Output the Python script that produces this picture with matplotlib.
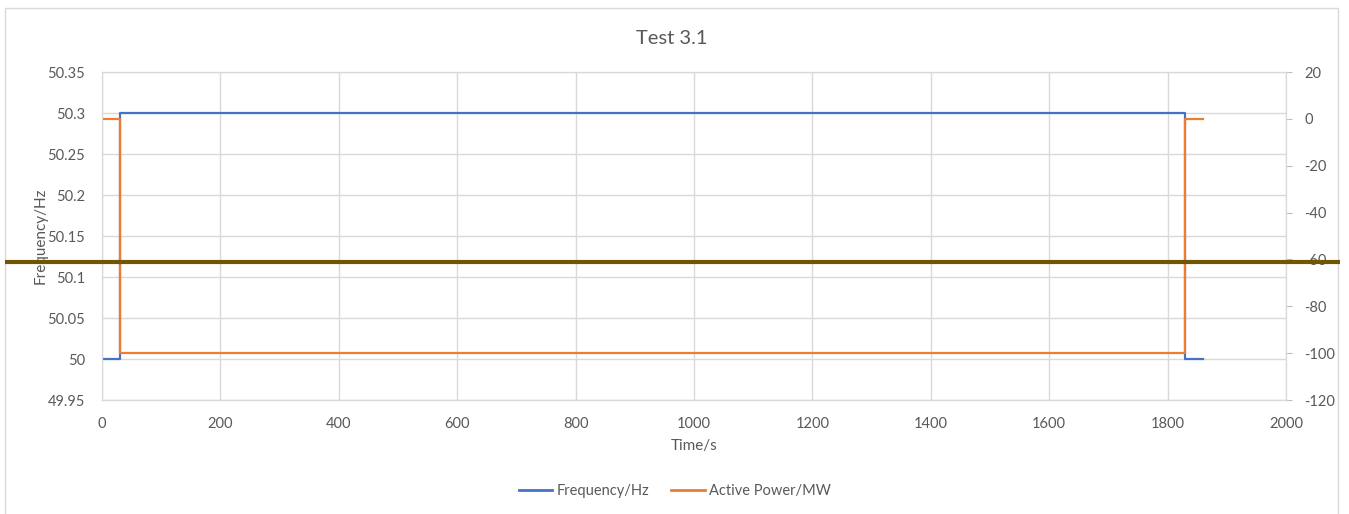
import matplotlib.pyplot as plt
from matplotlib.patches import Rectangle
from matplotlib.lines import Line2D

# data
time_s = [0, 30, 1830, 1860]
freq_hz = [50.0, 50.3, 50.0, 50.0]
power_mw = [0, -100, 0, 0]

x_ticks = [0, 200, 400, 600, 800, 1000, 1200, 1400, 1600, 1800, 2000]
left_ticks = [49.95, 50, 50.05, 50.1, 50.15, 50.2, 50.25, 50.3, 50.35]
left_labels = ["49.95", "50", "50.05", "50.1", "50.15", "50.2", "50.25", "50.3", "50.35"]
right_ticks = [-120, -100, -80, -60, -40, -20, 0, 20]

blue = "#4472C4"
orange = "#ED7D31"
grey_txt = "#595959"
grid_c = "#D9D9D9"

plt.rcParams['font.family'] = ['Lato', 'DejaVu Sans']
plt.rcParams['axes.unicode_minus'] = False

fig = plt.figure(figsize=(13.49, 5.14), dpi=100)
W, H = 1349, 514
ax = fig.add_axes([102 / W, 1 - 400 / H, (1286 - 102) / W, (400 - 72) / H])
ax2 = ax.twinx()

ax.plot(time_s, freq_hz, drawstyle='steps-post', color=blue, lw=1.6, label="Frequency/Hz")
ax2.plot(time_s, power_mw, drawstyle='steps-post', color=orange, lw=1.6, label="Active Power/MW")

ax.set_xlim(0, 2000)
ax.set_ylim(49.95, 50.35)
ax2.set_ylim(-120, 20)
ax.set_xticks(x_ticks)
ax.set_yticks(left_ticks)
ax.set_yticklabels(left_labels)
ax2.set_yticks(right_ticks)

ax.grid(True, color=grid_c, lw=1)
ax.set_axisbelow(True)
for a in (ax, ax2):
    for s in a.spines.values():
        s.set_color(grid_c)
ax.spines['bottom'].set_color("#BFBFBF")

ax.tick_params(axis='x', length=0, pad=12, labelsize=10.5, labelcolor=grey_txt)
ax.tick_params(axis='y', length=0, pad=12, labelsize=10.5, labelcolor=grey_txt)
ax2.tick_params(axis='y', length=4, color="#BFBFBF", pad=9, labelsize=10.5, labelcolor=grey_txt)

ax.set_xlabel("Time/s", fontsize=11, color=grey_txt, labelpad=6)
ax.set_ylabel("Frequency/Hz", fontsize=11, color=grey_txt, labelpad=0)
fig.text(672 / W, 1 - 38 / H, "Test 3.1", ha='center', va='center', fontsize=14.5, color=grey_txt)

handles = [Line2D([], [], color=blue, lw=2), Line2D([], [], color=orange, lw=2)]
fig.legend(handles, ["Frequency/Hz", "Active Power/MW"], loc='center', bbox_to_anchor=(675 / W, 1 - 491 / H),
           ncol=2, frameon=False, fontsize=10.5, labelcolor=grey_txt, handlelength=2.3, handletextpad=0.3,
           columnspacing=1.5)

# chart border
fig.add_artist(Rectangle((5 / W, -0.05), (1338 - 5) / W, 1.05 - 8 / H, transform=fig.transFigure,
                         fill=False, edgecolor="#D9D9D9", lw=1))
# olive horizontal bar across the figure
fig.add_artist(Line2D([5 / W, 1340 / W], [1 - 262 / H, 1 - 262 / H], transform=fig.transFigure,
                      color="#705600", lw=3.0, solid_capstyle='butt'))

fig.savefig("out.png", dpi=100)
